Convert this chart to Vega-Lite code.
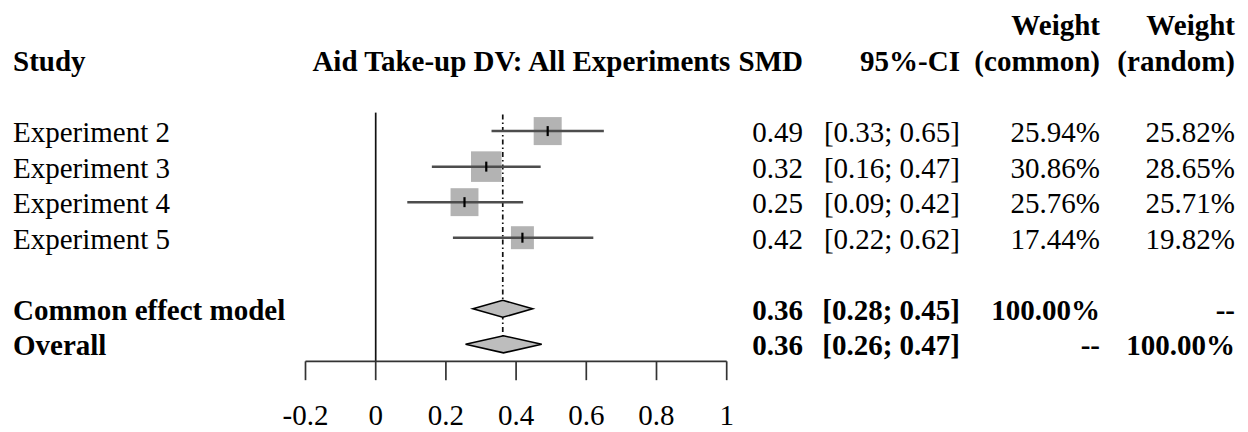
{
  "$schema": "https://vega.github.io/schema/vega-lite/v6.json",
  "width": 1248,
  "height": 432,
  "autosize": {"type": "fit", "contains": "padding"},
  "padding": 0,
  "background": "white",
  "config": {
    "view": {"stroke": null},
    "text": {"font": "Liberation Serif", "fontSize": 29, "color": "#000", "baseline": "alphabetic", "dy": 11}
  },
  "datasets": {
    "studies": [
      {"study": "Experiment 2", "row": 0, "smd": 0.49, "lo": 0.33, "hi": 0.65, "wc": 25.94, "wr": 25.82, "smdText": "0.49", "ciText": "[0.33; 0.65]", "wcText": "25.94%", "wrText": "25.82%"},
      {"study": "Experiment 3", "row": 1, "smd": 0.315, "lo": 0.16, "hi": 0.47, "wc": 30.86, "wr": 28.65, "smdText": "0.32", "ciText": "[0.16; 0.47]", "wcText": "30.86%", "wrText": "28.65%"},
      {"study": "Experiment 4", "row": 2, "smd": 0.253, "lo": 0.09, "hi": 0.42, "wc": 25.76, "wr": 25.71, "smdText": "0.25", "ciText": "[0.09; 0.42]", "wcText": "25.76%", "wrText": "25.71%"},
      {"study": "Experiment 5", "row": 3, "smd": 0.418, "lo": 0.22, "hi": 0.62, "wc": 17.44, "wr": 19.82, "smdText": "0.42", "ciText": "[0.22; 0.62]", "wcText": "17.44%", "wrText": "19.82%"}
    ],
    "pooled": [
      {"study": "Common effect model", "row": 5, "smd": 0.362, "lo": 0.277, "hi": 0.447, "smdText": "0.36", "ciText": "[0.28; 0.45]", "wcText": "100.00%", "wrText": "--"},
      {"study": "Overall", "row": 6, "smd": 0.364, "lo": 0.256, "hi": 0.473, "smdText": "0.36", "ciText": "[0.26; 0.47]", "wcText": "--", "wrText": "100.00%"}
    ],
    "ticks": [
      {"v": -0.2, "label": "-0.2"}, {"v": 0, "label": "0"}, {"v": 0.2, "label": "0.2"},
      {"v": 0.4, "label": "0.4"}, {"v": 0.6, "label": "0.6"}, {"v": 0.8, "label": "0.8"}, {"v": 1, "label": "1"}
    ],
    "headers": [
      {"key": "study", "line1": "", "line2": "Study"},
      {"key": "plot", "line1": "", "line2": "Aid Take-up DV: All Experiments"},
      {"key": "smd", "line1": "", "line2": "SMD"},
      {"key": "ci", "line1": "", "line2": "95%-CI"},
      {"key": "wc", "line1": "Weight", "line2": "(common)"},
      {"key": "wr", "line1": "Weight", "line2": "(random)"}
    ]
  },
  "layer": [
    {
      "data": {"name": "ticks"},
      "transform": [{"filter": "datum.v == 0"}],
      "mark": {"type": "rule", "color": "#111", "strokeWidth": 1.7},
      "encoding": {
        "x": {"field": "v", "type": "quantitative", "scale": {"type": "linear", "domain": [-1.07037, 2.48519], "nice": false, "zero": false}, "axis": null},
        "y": {"datum": -0.52, "type": "quantitative", "scale": {"type": "linear", "domain": [-3.6891, 8.4118], "nice": false, "zero": false, "reverse": true}, "axis": null},
        "y2": {"datum": 6.479}
      }
    },
    {
      "data": {"name": "pooled"},
      "transform": [{"filter": "datum.study == 'Common effect model'"}],
      "mark": {"type": "rule", "color": "#111", "strokeWidth": 1.7, "strokeDash": [5, 3, 1.5, 3]},
      "encoding": {
        "x": {"field": "smd", "type": "quantitative", "scale": {"type": "linear", "domain": [-1.07037, 2.48519], "nice": false, "zero": false}, "axis": null},
        "y": {"datum": -0.47, "type": "quantitative", "scale": {"type": "linear", "domain": [-3.6891, 8.4118], "nice": false, "zero": false, "reverse": true}, "axis": null},
        "y2": {"datum": 6}
      }
    },
    {
      "data": {"name": "studies"},
      "mark": {"type": "point", "shape": "square", "filled": true, "color": "#b3b3b3", "opacity": 1, "strokeWidth": 0},
      "encoding": {
        "x": {"field": "smd", "type": "quantitative", "scale": {"type": "linear", "domain": [-1.07037, 2.48519], "nice": false, "zero": false}, "axis": null},
        "y": {"field": "row", "type": "quantitative", "scale": {"type": "linear", "domain": [-3.6891, 8.4118], "nice": false, "zero": false, "reverse": true}, "axis": null},
        "size": {"field": "wc", "type": "quantitative", "scale": {"type": "linear", "domain": [0, 100], "range": [0, 3025]}, "legend": null}
      }
    },
    {
      "data": {"name": "studies"},
      "mark": {"type": "rule", "color": "#4d4d4d", "strokeWidth": 2.5},
      "encoding": {
        "x": {"field": "lo", "type": "quantitative", "scale": {"type": "linear", "domain": [-1.07037, 2.48519], "nice": false, "zero": false}, "axis": null},
        "x2": {"field": "hi"},
        "y": {"field": "row", "type": "quantitative", "scale": {"type": "linear", "domain": [-3.6891, 8.4118], "nice": false, "zero": false, "reverse": true}, "axis": null}
      }
    },
    {
      "data": {"name": "studies"},
      "mark": {"type": "tick", "orient": "vertical", "color": "#000", "size": 10, "thickness": 2.2, "opacity": 1},
      "encoding": {
        "x": {"field": "smd", "type": "quantitative", "scale": {"type": "linear", "domain": [-1.07037, 2.48519], "nice": false, "zero": false}, "axis": null},
        "y": {"field": "row", "type": "quantitative", "scale": {"type": "linear", "domain": [-3.6891, 8.4118], "nice": false, "zero": false, "reverse": true}, "axis": null}
      }
    },
    {
      "data": {"name": "pooled"},
      "transform": [
        {"fold": ["lo", "smd", "hi"], "as": ["k", "xv"]},
        {"calculate": "datum.k == 'smd' ? 0.24 : 0", "as": "half"},
        {"calculate": "datum.row - datum.half", "as": "ytop"},
        {"calculate": "datum.row + datum.half", "as": "ybot"}
      ],
      "mark": {"type": "area", "color": "#bdbdbd", "fill": "#bdbdbd", "stroke": "#000", "strokeWidth": 1.6, "opacity": 1, "fillOpacity": 1, "interpolate": "linear"},
      "encoding": {
        "x": {"field": "xv", "type": "quantitative", "scale": {"type": "linear", "domain": [-1.07037, 2.48519], "nice": false, "zero": false}, "axis": null},
        "y": {"field": "ytop", "type": "quantitative", "scale": {"type": "linear", "domain": [-3.6891, 8.4118], "nice": false, "zero": false, "reverse": true}, "axis": null},
        "y2": {"field": "ybot"},
        "detail": {"field": "study"}
      }
    },
    {
      "data": {"name": "ticks"},
      "transform": [{"aggregate": [{"op": "min", "field": "v", "as": "vmin"}, {"op": "max", "field": "v", "as": "vmax"}]}],
      "mark": {"type": "rule", "color": "#333", "strokeWidth": 1.7},
      "encoding": {
        "x": {"field": "vmin", "type": "quantitative", "scale": {"type": "linear", "domain": [-1.07037, 2.48519], "nice": false, "zero": false}, "axis": null},
        "x2": {"field": "vmax"},
        "y": {"datum": 6.479, "type": "quantitative", "scale": {"type": "linear", "domain": [-3.6891, 8.4118], "nice": false, "zero": false, "reverse": true}, "axis": null}
      }
    },
    {
      "data": {"name": "ticks"},
      "mark": {"type": "rule", "color": "#333", "strokeWidth": 1.7},
      "encoding": {
        "x": {"field": "v", "type": "quantitative", "scale": {"type": "linear", "domain": [-1.07037, 2.48519], "nice": false, "zero": false}, "axis": null},
        "y": {"datum": 6.479, "type": "quantitative", "scale": {"type": "linear", "domain": [-3.6891, 8.4118], "nice": false, "zero": false, "reverse": true}, "axis": null},
        "y2": {"datum": 7.01}
      }
    },
    {
      "data": {"name": "ticks"},
      "mark": {"type": "text", "align": "center"},
      "encoding": {
        "x": {"field": "v", "type": "quantitative", "scale": {"type": "linear", "domain": [-1.07037, 2.48519], "nice": false, "zero": false}, "axis": null},
        "y": {"datum": 7.964, "type": "quantitative", "scale": {"type": "linear", "domain": [-3.6891, 8.4118], "nice": false, "zero": false, "reverse": true}, "axis": null},
        "text": {"field": "label"}
      }
    },
    {
      "data": {"name": "headers"},
      "transform": [{"filter": "datum.key == 'study'"}],
      "mark": {"type": "text", "align": "left", "fontWeight": "bold"},
      "encoding": {
        "x": {"datum": -1.0333, "type": "quantitative", "scale": {"type": "linear", "domain": [-1.07037, 2.48519], "nice": false, "zero": false}, "axis": null},
        "y": {"datum": -2, "type": "quantitative", "scale": {"type": "linear", "domain": [-3.6891, 8.4118], "nice": false, "zero": false, "reverse": true}, "axis": null},
        "text": {"field": "line2"}
      }
    },
    {
      "data": {"name": "headers"},
      "transform": [{"filter": "datum.key == 'plot'"}],
      "mark": {"type": "text", "align": "center", "fontWeight": "bold"},
      "encoding": {
        "x": {"datum": 0.415, "type": "quantitative", "scale": {"type": "linear", "domain": [-1.07037, 2.48519], "nice": false, "zero": false}, "axis": null},
        "y": {"datum": -2, "type": "quantitative", "scale": {"type": "linear", "domain": [-3.6891, 8.4118], "nice": false, "zero": false, "reverse": true}, "axis": null},
        "text": {"field": "line2"}
      }
    },
    {
      "data": {"name": "headers"},
      "transform": [{"filter": "datum.key == 'smd'"}],
      "mark": {"type": "text", "align": "right", "fontWeight": "bold"},
      "encoding": {
        "x": {"datum": 1.2174, "type": "quantitative", "scale": {"type": "linear", "domain": [-1.07037, 2.48519], "nice": false, "zero": false}, "axis": null},
        "y": {"datum": -2, "type": "quantitative", "scale": {"type": "linear", "domain": [-3.6891, 8.4118], "nice": false, "zero": false, "reverse": true}, "axis": null},
        "text": {"field": "line2"}
      }
    },
    {
      "data": {"name": "headers"},
      "transform": [{"filter": "datum.key == 'ci'"}],
      "mark": {"type": "text", "align": "right", "fontWeight": "bold"},
      "encoding": {
        "x": {"datum": 1.6647, "type": "quantitative", "scale": {"type": "linear", "domain": [-1.07037, 2.48519], "nice": false, "zero": false}, "axis": null},
        "y": {"datum": -2, "type": "quantitative", "scale": {"type": "linear", "domain": [-3.6891, 8.4118], "nice": false, "zero": false, "reverse": true}, "axis": null},
        "text": {"field": "line2"}
      }
    },
    {
      "data": {"name": "headers"},
      "transform": [{"filter": "datum.key == 'wc'"}],
      "mark": {"type": "text", "align": "right", "fontWeight": "bold"},
      "encoding": {
        "x": {"datum": 2.0635, "type": "quantitative", "scale": {"type": "linear", "domain": [-1.07037, 2.48519], "nice": false, "zero": false}, "axis": null},
        "y": {"datum": -2, "type": "quantitative", "scale": {"type": "linear", "domain": [-3.6891, 8.4118], "nice": false, "zero": false, "reverse": true}, "axis": null},
        "text": {"field": "line2"}
      }
    },
    {
      "data": {"name": "headers"},
      "transform": [{"filter": "datum.key == 'wc'"}],
      "mark": {"type": "text", "align": "right", "fontWeight": "bold"},
      "encoding": {
        "x": {"datum": 2.0635, "type": "quantitative", "scale": {"type": "linear", "domain": [-1.07037, 2.48519], "nice": false, "zero": false}, "axis": null},
        "y": {"datum": -3, "type": "quantitative", "scale": {"type": "linear", "domain": [-3.6891, 8.4118], "nice": false, "zero": false, "reverse": true}, "axis": null},
        "text": {"field": "line1"}
      }
    },
    {
      "data": {"name": "headers"},
      "transform": [{"filter": "datum.key == 'wr'"}],
      "mark": {"type": "text", "align": "right", "fontWeight": "bold"},
      "encoding": {
        "x": {"datum": 2.4481, "type": "quantitative", "scale": {"type": "linear", "domain": [-1.07037, 2.48519], "nice": false, "zero": false}, "axis": null},
        "y": {"datum": -2, "type": "quantitative", "scale": {"type": "linear", "domain": [-3.6891, 8.4118], "nice": false, "zero": false, "reverse": true}, "axis": null},
        "text": {"field": "line2"}
      }
    },
    {
      "data": {"name": "headers"},
      "transform": [{"filter": "datum.key == 'wr'"}],
      "mark": {"type": "text", "align": "right", "fontWeight": "bold"},
      "encoding": {
        "x": {"datum": 2.4481, "type": "quantitative", "scale": {"type": "linear", "domain": [-1.07037, 2.48519], "nice": false, "zero": false}, "axis": null},
        "y": {"datum": -3, "type": "quantitative", "scale": {"type": "linear", "domain": [-3.6891, 8.4118], "nice": false, "zero": false, "reverse": true}, "axis": null},
        "text": {"field": "line1"}
      }
    },
    {
      "data": {"name": "studies"},
      "mark": {"type": "text", "align": "left"},
      "encoding": {
        "x": {"datum": -1.0333, "type": "quantitative", "scale": {"type": "linear", "domain": [-1.07037, 2.48519], "nice": false, "zero": false}, "axis": null},
        "y": {"field": "row", "type": "quantitative", "scale": {"type": "linear", "domain": [-3.6891, 8.4118], "nice": false, "zero": false, "reverse": true}, "axis": null},
        "text": {"field": "study"}
      }
    },
    {
      "data": {"name": "studies"},
      "mark": {"type": "text", "align": "right"},
      "encoding": {
        "x": {"datum": 1.2174, "type": "quantitative", "scale": {"type": "linear", "domain": [-1.07037, 2.48519], "nice": false, "zero": false}, "axis": null},
        "y": {"field": "row", "type": "quantitative", "scale": {"type": "linear", "domain": [-3.6891, 8.4118], "nice": false, "zero": false, "reverse": true}, "axis": null},
        "text": {"field": "smdText"}
      }
    },
    {
      "data": {"name": "studies"},
      "mark": {"type": "text", "align": "right"},
      "encoding": {
        "x": {"datum": 1.6647, "type": "quantitative", "scale": {"type": "linear", "domain": [-1.07037, 2.48519], "nice": false, "zero": false}, "axis": null},
        "y": {"field": "row", "type": "quantitative", "scale": {"type": "linear", "domain": [-3.6891, 8.4118], "nice": false, "zero": false, "reverse": true}, "axis": null},
        "text": {"field": "ciText"}
      }
    },
    {
      "data": {"name": "studies"},
      "mark": {"type": "text", "align": "right"},
      "encoding": {
        "x": {"datum": 2.0635, "type": "quantitative", "scale": {"type": "linear", "domain": [-1.07037, 2.48519], "nice": false, "zero": false}, "axis": null},
        "y": {"field": "row", "type": "quantitative", "scale": {"type": "linear", "domain": [-3.6891, 8.4118], "nice": false, "zero": false, "reverse": true}, "axis": null},
        "text": {"field": "wcText"}
      }
    },
    {
      "data": {"name": "studies"},
      "mark": {"type": "text", "align": "right"},
      "encoding": {
        "x": {"datum": 2.4481, "type": "quantitative", "scale": {"type": "linear", "domain": [-1.07037, 2.48519], "nice": false, "zero": false}, "axis": null},
        "y": {"field": "row", "type": "quantitative", "scale": {"type": "linear", "domain": [-3.6891, 8.4118], "nice": false, "zero": false, "reverse": true}, "axis": null},
        "text": {"field": "wrText"}
      }
    },
    {
      "data": {"name": "pooled"},
      "mark": {"type": "text", "align": "left", "fontWeight": "bold"},
      "encoding": {
        "x": {"datum": -1.0333, "type": "quantitative", "scale": {"type": "linear", "domain": [-1.07037, 2.48519], "nice": false, "zero": false}, "axis": null},
        "y": {"field": "row", "type": "quantitative", "scale": {"type": "linear", "domain": [-3.6891, 8.4118], "nice": false, "zero": false, "reverse": true}, "axis": null},
        "text": {"field": "study"}
      }
    },
    {
      "data": {"name": "pooled"},
      "mark": {"type": "text", "align": "right", "fontWeight": "bold"},
      "encoding": {
        "x": {"datum": 1.2174, "type": "quantitative", "scale": {"type": "linear", "domain": [-1.07037, 2.48519], "nice": false, "zero": false}, "axis": null},
        "y": {"field": "row", "type": "quantitative", "scale": {"type": "linear", "domain": [-3.6891, 8.4118], "nice": false, "zero": false, "reverse": true}, "axis": null},
        "text": {"field": "smdText"}
      }
    },
    {
      "data": {"name": "pooled"},
      "mark": {"type": "text", "align": "right", "fontWeight": "bold"},
      "encoding": {
        "x": {"datum": 1.6647, "type": "quantitative", "scale": {"type": "linear", "domain": [-1.07037, 2.48519], "nice": false, "zero": false}, "axis": null},
        "y": {"field": "row", "type": "quantitative", "scale": {"type": "linear", "domain": [-3.6891, 8.4118], "nice": false, "zero": false, "reverse": true}, "axis": null},
        "text": {"field": "ciText"}
      }
    },
    {
      "data": {"name": "pooled"},
      "mark": {"type": "text", "align": "right", "fontWeight": "bold"},
      "encoding": {
        "x": {"datum": 2.0635, "type": "quantitative", "scale": {"type": "linear", "domain": [-1.07037, 2.48519], "nice": false, "zero": false}, "axis": null},
        "y": {"field": "row", "type": "quantitative", "scale": {"type": "linear", "domain": [-3.6891, 8.4118], "nice": false, "zero": false, "reverse": true}, "axis": null},
        "text": {"field": "wcText"}
      }
    },
    {
      "data": {"name": "pooled"},
      "mark": {"type": "text", "align": "right", "fontWeight": "bold"},
      "encoding": {
        "x": {"datum": 2.4481, "type": "quantitative", "scale": {"type": "linear", "domain": [-1.07037, 2.48519], "nice": false, "zero": false}, "axis": null},
        "y": {"field": "row", "type": "quantitative", "scale": {"type": "linear", "domain": [-3.6891, 8.4118], "nice": false, "zero": false, "reverse": true}, "axis": null},
        "text": {"field": "wrText"}
      }
    }
  ]
}
